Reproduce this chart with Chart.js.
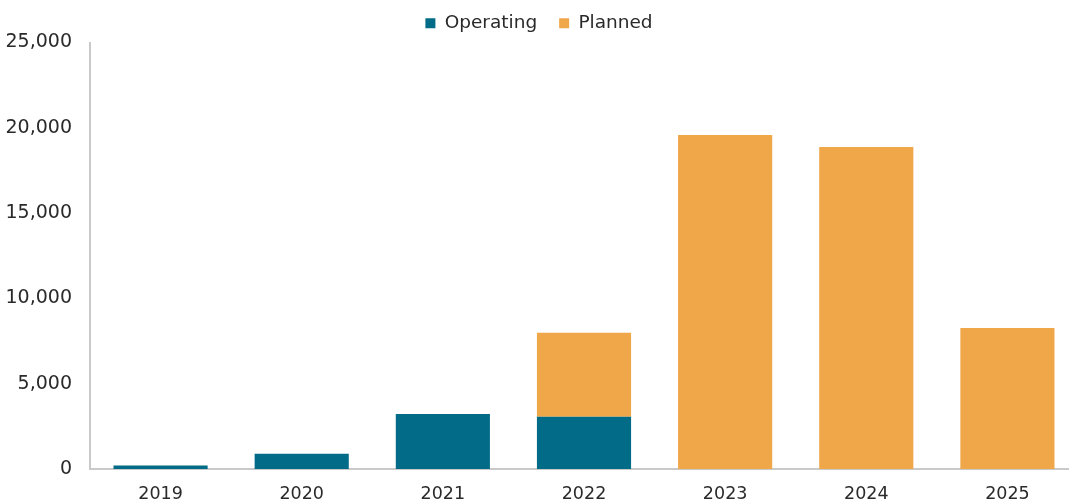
<!DOCTYPE html>
<html>
<head>
<meta charset="utf-8">
<script src="https://cdn.jsdelivr.net/npm/chart.js@4.4.0/dist/chart.umd.min.js"></script>
<style>
    html, body { margin: 0; padding: 0; background: #fff; overflow: hidden; }
    #wrap { width: 1078px; height: 504px; position: relative; }
</style>
</head>
<body>
<div id="wrap"><canvas id="chart"></canvas></div>
<script>
// values
const years = ['2019', '2020', '2021', '2022', '2023', '2024', '2025'];
const operating = [200, 900, 3230, 3070, null, null, null];
const planned = [null, null, null, 4910, 19580, 18870, 8270];
const yTicks = [0, 5000, 10000, 15000, 20000, 25000];

const FONT = '"DejaVu Sans", "Liberation Sans", sans-serif';
const TEAL = '#026b87';
const ORANGE = '#f0a74a';
const AXIS = '#c9c9c9';
const TEXT = '#2a2a2a';

new Chart(document.getElementById('chart'), {
    type: 'bar',
    data: {
        labels: years,
        datasets: [
            {label: 'Operating', data: operating, backgroundColor: TEAL, borderWidth: 0},
            {label: 'Planned', data: planned, backgroundColor: ORANGE, borderWidth: 0},
        ],
    },
    options: {
        responsive: true,
        maintainAspectRatio: false,
        animation: false,
        datasets: {
            bar: {categoryPercentage: 1, barPercentage: 0.667},
        },
        layout: {padding: {top: -8, right: 0, bottom: 0, left: 0}},
        plugins: {
            tooltip: {enabled: false},
            legend: {
                display: true,
                position: 'top',
                labels: {
                    font: {family: FONT, size: 18.5},
                    color: TEXT,
                    boxWidth: 10,
                    boxHeight: 10,
                    padding: 22,
                },
            },
        },
        scales: {
            x: {
                stacked: true,
                grid: {display: false, drawTicks: false},
                border: {display: true, color: AXIS, width: 2},
                ticks: {font: {family: FONT, size: 17.5}, color: TEXT, padding: 15},
                afterFit: (scale) => { scale.height = 35; },
            },
            y: {
                stacked: true,
                min: 0,
                max: 25000,
                afterBuildTicks: (scale) => {
                    scale.ticks = yTicks.map((v) => ({value: v}));
                },
                grid: {display: false, drawTicks: false},
                border: {display: true, color: AXIS, width: 2},
                ticks: {
                    font: {family: FONT, size: 19},
                    color: TEXT,
                    padding: 18,
                    callback: (v) => Number(v).toLocaleString('en-US'),
                },
                afterFit: (scale) => { scale.width = 90; },
            },
        },
    },
});
</script>
</body>
</html>
